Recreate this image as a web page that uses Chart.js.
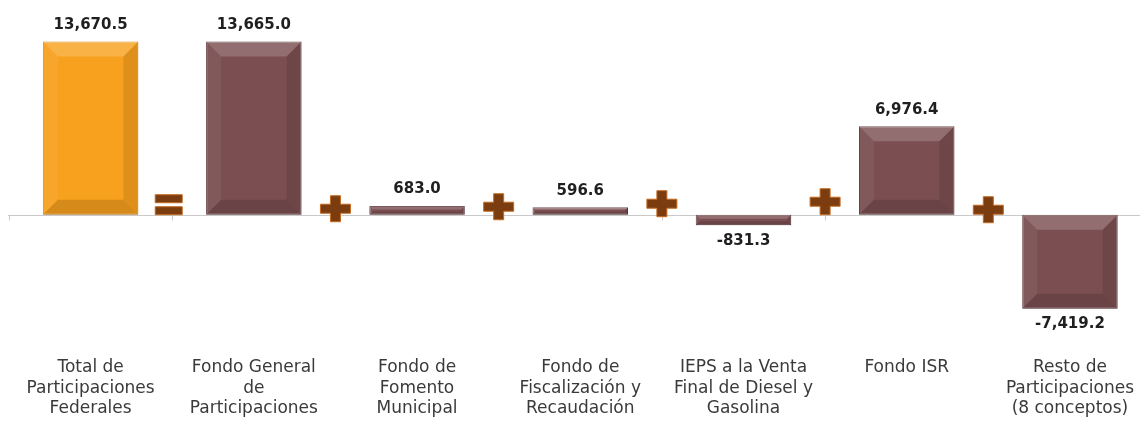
<!DOCTYPE html>
<html>
<head>
<meta charset="utf-8">
<script src="https://cdn.jsdelivr.net/npm/chart.js@4.4.0/dist/chart.umd.min.js"></script>
<style>
  html, body { margin: 0; padding: 0; background: #ffffff; overflow: hidden; }
  #wrap { width: 1154px; height: 422px; position: relative; }
</style>
</head>
<body>
<div id="wrap"><canvas id="c"></canvas></div>
<script>
// ---- data ----
const categories = [
  ['Total de', 'Participaciones', 'Federales'],
  ['Fondo General', 'de', 'Participaciones'],
  ['Fondo de', 'Fomento', 'Municipal'],
  ['Fondo de', 'Fiscalización y', 'Recaudación'],
  ['IEPS a la Venta', 'Final de Diesel y', 'Gasolina'],
  ['Fondo ISR'],
  ['Resto de', 'Participaciones', '(8 conceptos)']
];
const values = [13670.5, 13665.0, 683.0, 596.6, -831.3, 6976.4, -7419.2];
const operators = ['=', '+', '+', '+', '+', '+'];
const operatorLevels = [790, 474, 632, 869, 1027, 395];

const barColors = values.map((v, i) => i === 0 ? '#F8A11E' : '#7B4F51');
const barBorders = values.map((v, i) => i === 0 ? '#D9850C' : '#5F383A');

const fmt = v => v.toLocaleString('en-US', { minimumFractionDigits: 1, maximumFractionDigits: 1 });

const axisPlugin = {
  id: 'axisLine',
  beforeDatasetsDraw(chart) {
    const { ctx, scales: { x, y } } = chart;
    const y0 = Math.round(y.getPixelForValue(0)) + 0.5;
    ctx.save();
    ctx.strokeStyle = '#C9C9C9';
    ctx.lineWidth = 1;
    ctx.beginPath();
    ctx.moveTo(8, y0);
    ctx.lineTo(chart.width, y0);
    ctx.stroke();
    const n = categories.length;
    for (let i = 0; i <= n; i++) {
      const px = Math.round(x.getPixelForValue(i - 0.5)) + 0.5;
      ctx.beginPath();
      ctx.moveTo(px, y0);
      ctx.lineTo(px, y0 + 5);
      ctx.stroke();
    }
    ctx.restore();
  }
};

const bevelPlugin = {
  id: 'bevel',
  afterDatasetsDraw(chart) {
    const { ctx } = chart;
    const meta = chart.getDatasetMeta(0);
    ctx.save();
    meta.data.forEach(el => {
      const p = el.getProps(['x', 'y', 'base', 'width'], true);
      const l = p.x - p.width / 2, r = p.x + p.width / 2;
      const t = Math.min(p.y, p.base), bt = Math.max(p.y, p.base);
      const h = bt - t;
      const b = Math.min(15, h / 2.6, p.width / 4);
      const poly = (pts, fill) => {
        ctx.beginPath();
        ctx.moveTo(pts[0][0], pts[0][1]);
        for (let k = 1; k < pts.length; k++) ctx.lineTo(pts[k][0], pts[k][1]);
        ctx.closePath();
        ctx.fillStyle = fill;
        ctx.fill();
      };
      poly([[l, t], [r, t], [r - b, t + b], [l + b, t + b]], 'rgba(255,255,255,0.18)');
      poly([[l, t], [l + b, t + b], [l + b, bt - b], [l, bt]], 'rgba(255,255,255,0.06)');
      poly([[r, t], [r - b, t + b], [r - b, bt - b], [r, bt]], 'rgba(0,0,0,0.10)');
      poly([[l, bt], [l + b, bt - b], [r - b, bt - b], [r, bt]], 'rgba(0,0,0,0.14)');
    });
    ctx.restore();
  }
};

const labelPlugin = {
  id: 'valueLabels',
  afterDatasetsDraw(chart) {
    const { ctx } = chart;
    const meta = chart.getDatasetMeta(0);
    ctx.save();
    ctx.font = 'bold 15px "DejaVu Sans"';
    ctx.fillStyle = '#1f1f1f';
    ctx.textAlign = 'center';
    meta.data.forEach((el, i) => {
      const v = values[i];
      const p = el.getProps(['x', 'y', 'base'], true);
      if (v >= 0) {
        ctx.textBaseline = 'bottom';
        ctx.fillText(fmt(v), p.x, Math.min(p.y, p.base) - 9);
      } else {
        ctx.textBaseline = 'top';
        ctx.fillText(fmt(v), p.x, Math.max(p.y, p.base) + 8);
      }
    });
    ctx.restore();
  }
};

const operatorPlugin = {
  id: 'operators',
  afterDatasetsDraw(chart) {
    const { ctx, scales: { x, y } } = chart;
    ctx.save();
    ctx.fillStyle = '#7B3C10';
    ctx.strokeStyle = '#C46A1F';
    ctx.lineWidth = 1;
    operators.forEach((op, i) => {
      const cx = x.getPixelForValue(i + 0.5);
      const cy = y.getPixelForValue(operatorLevels[i]);
      ctx.beginPath();
      if (op === '=') {
        ctx.rect(cx - 17, cy - 10, 27, 8);
        ctx.rect(cx - 17, cy + 2, 27, 8);
      } else {
        const w = 30, hgt = 26, th = 9, tv = 10;
        ctx.moveTo(cx - tv / 2, cy - hgt / 2);
        ctx.lineTo(cx + tv / 2, cy - hgt / 2);
        ctx.lineTo(cx + tv / 2, cy - th / 2);
        ctx.lineTo(cx + w / 2, cy - th / 2);
        ctx.lineTo(cx + w / 2, cy + th / 2);
        ctx.lineTo(cx + tv / 2, cy + th / 2);
        ctx.lineTo(cx + tv / 2, cy + hgt / 2);
        ctx.lineTo(cx - tv / 2, cy + hgt / 2);
        ctx.lineTo(cx - tv / 2, cy + th / 2);
        ctx.lineTo(cx - w / 2, cy + th / 2);
        ctx.lineTo(cx - w / 2, cy - th / 2);
        ctx.lineTo(cx - tv / 2, cy - th / 2);
        ctx.closePath();
      }
      ctx.fill();
      ctx.stroke();
    });
    ctx.restore();
  }
};

new Chart(document.getElementById('c'), {
  type: 'bar',
  data: {
    labels: categories,
    datasets: [{
      data: values,
      backgroundColor: barColors,
      borderColor: barBorders,
      borderWidth: 1,
      borderSkipped: false,
      categoryPercentage: 1,
      barPercentage: 0.585
    }]
  },
  options: {
    responsive: true,
    maintainAspectRatio: false,
    animation: false,
    events: [],
    layout: { padding: { left: 9, right: 0, top: 12, bottom: 5 } },
    plugins: { legend: { display: false }, tooltip: { enabled: false } },
    scales: {
      x: {
        offset: true,
        grid: { display: false, drawTicks: false },
        border: { display: false },
        afterFit(scale) { scale.height = 80; },
        ticks: {
          autoSkip: false,
          maxRotation: 0,
          minRotation: 0,
          padding: 20,
          color: '#3A3A3A',
          font: { family: '"DejaVu Sans"', size: 17, lineHeight: 1.22 }
        }
      },
      y: {
        display: false,
        min: -9650,
        max: 16000
      }
    }
  },
  plugins: [axisPlugin, bevelPlugin, labelPlugin, operatorPlugin]
});
</script>
</body>
</html>
